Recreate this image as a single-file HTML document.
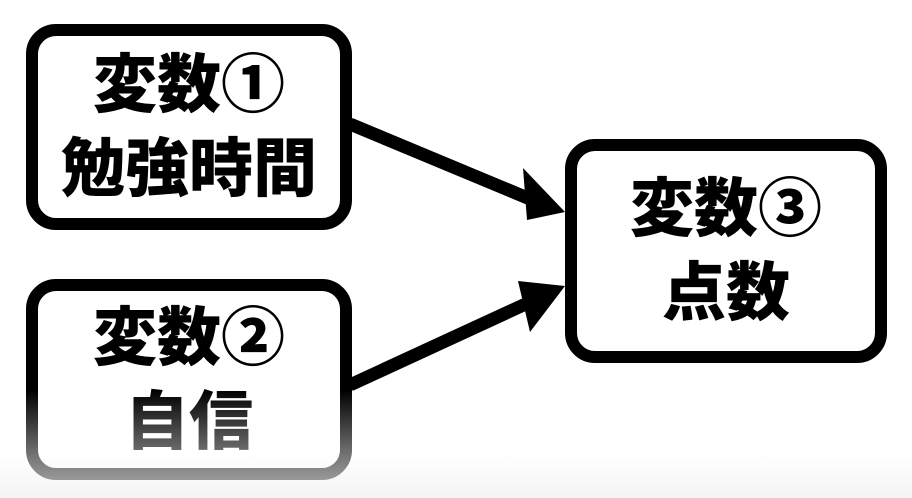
<!DOCTYPE html>
<html><head><meta charset="utf-8"><style>
html,body{margin:0;padding:0;background:#fff;}
#c{position:relative;width:912px;height:498px;overflow:hidden;background:#fff;font-family:"Liberation Sans","Noto Sans CJK JP",sans-serif;}
.box{position:absolute;box-sizing:border-box;border:12px solid #000;border-radius:30px;background:#fff;display:flex;flex-direction:column;align-items:center;justify-content:center;font-weight:900;font-size:64px;line-height:84px;color:#000;letter-spacing:0px;}
#fade{position:absolute;left:0;top:390px;width:912px;height:108px;background:linear-gradient(to bottom,rgba(255,255,255,0) 0%,rgba(255,255,255,0.45) 60%,rgba(240,240,240,0.75) 100%);}
</style></head><body><div id="c">
<svg width="912" height="498" style="position:absolute;left:0;top:0">
<line x1="350" y1="124" x2="530" y2="199" stroke="#000" stroke-width="13"/>
<polygon points="565,212 527,220 523,168" fill="#000"/>
<line x1="350" y1="385" x2="530" y2="302" stroke="#000" stroke-width="13"/>
<polygon points="565,286 530,332 518,281" fill="#000"/>
</svg>
<div class="box" style="left:26px;top:24px;width:326px;height:206px;"><div>変数①</div><div>勉強時間</div></div>
<div class="box" style="left:26px;top:279px;width:326px;height:201px;"><div>変数②</div><div>自信</div></div>
<div class="box" style="left:565px;top:139px;width:322px;height:224px;"><div>変数③</div><div>点数</div></div>
<div id="fade"></div>
</div></body></html>
